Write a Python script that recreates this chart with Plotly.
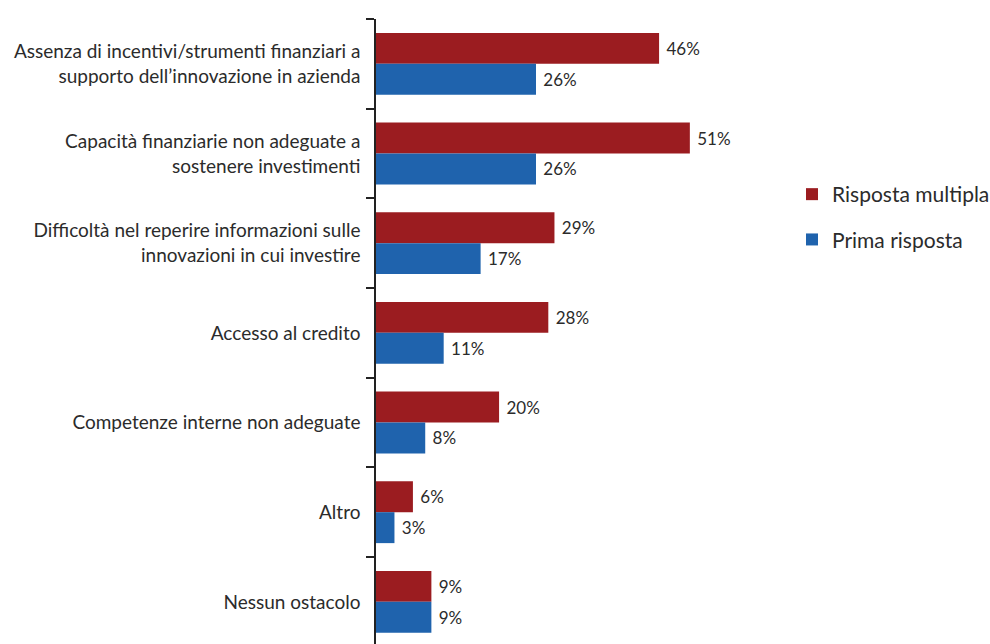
import plotly.graph_objects as go

# Obstacles to innovation investment (share of firms, %)
categories = [
    "Assenza di incentivi/strumenti finanziari a<br>supporto dell\u2019innovazione in azienda",
    "Capacità finanziarie non adeguate a<br>sostenere investimenti",
    "Difficoltà nel reperire informazioni sulle<br>innovazioni in cui investire",
    "Accesso al credito",
    "Competenze interne non adeguate",
    "Altro",
    "Nessun ostacolo",
]
risposta_multipla = [46, 51, 29, 28, 20, 6, 9]
prima_risposta = [26, 26, 17, 11, 8, 3, 9]

RED = "#9b1c20"
BLUE = "#1f63ad"
TEXT = "#2b2b2b"
FONT = "Lato, 'Open Sans', sans-serif"


def value_labels(values):
    return [f"\u00a0{v}%" for v in values]


fig = go.Figure()
fig.add_trace(go.Bar(
    y=categories, x=risposta_multipla, orientation="h",
    name="Risposta multipla", marker=dict(color=RED, line=dict(width=0)),
    text=value_labels(risposta_multipla), textposition="outside",
    textfont=dict(size=17, color=TEXT, family=FONT), cliponaxis=False,
    legendgroup="a",
))
fig.add_trace(go.Bar(
    y=categories, x=prima_risposta, orientation="h",
    name="Prima risposta", marker=dict(color=BLUE, line=dict(width=0)),
    text=value_labels(prima_risposta), textposition="outside",
    textfont=dict(size=17, color=TEXT, family=FONT), cliponaxis=False,
    legendgroup="b",
))

fig.update_layout(
    width=990, height=644,
    margin=dict(l=376, r=214, t=19, b=0, autoexpand=False),
    paper_bgcolor="white", plot_bgcolor="white",
    barmode="group", bargap=0.31, bargroupgap=0,
    font=dict(family=FONT, color=TEXT, size=18),
    legend=dict(
        x=1.04, y=0.752, xanchor="left", yanchor="top",
        font=dict(size=21, color=TEXT, family=FONT),
        traceorder="grouped", tracegroupgap=15,
        bgcolor="rgba(0,0,0,0)",
    ),
    showlegend=True,
)
fig.update_xaxes(
    range=[0, 65.0], visible=False, showgrid=False, zeroline=False,
)
fig.update_yaxes(
    type="category", categoryorder="array", categoryarray=categories,
    range=[6.47, -0.5],
    showline=True, linecolor="#222222", linewidth=1.5,
    ticks="outside", tickson="boundaries", ticklen=8,
    tickcolor="#222222", tickwidth=1.5,
    showgrid=False, zeroline=False,
    tickfont=dict(size=19, color=TEXT, family=FONT),
    ticklabelstandoff=10,
)

fig.write_html("out.html")
